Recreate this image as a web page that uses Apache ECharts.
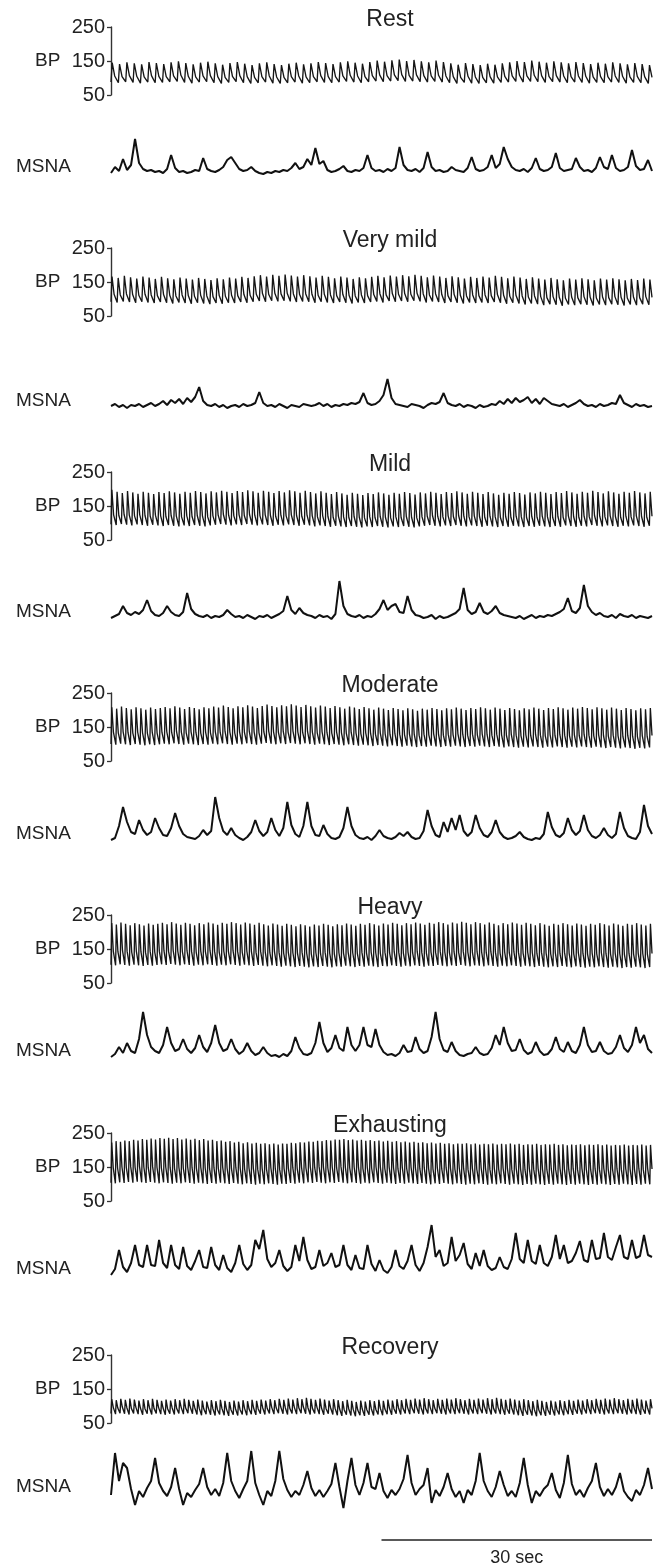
<!DOCTYPE html>
<html><head><meta charset="utf-8">
<script src="https://cdn.jsdelivr.net/npm/echarts/dist/echarts.min.js"></script>
<style>html,body{margin:0;padding:0;background:#fff}#c{width:661px;height:1565px}</style>
</head><body><div id="c"></div>
<script>
// ---------- data ----------
const titles = ['Rest','Very mild','Mild','Moderate','Heavy','Exhausting','Recovery'];
const bpTicks = [50,150,250];
const recordSec = 60;
const scaleBarSec = [30,60];
const scaleBarLabel = '30 sec';

// BP per beat (mmHg): systolic peak, dicrotic notch, diastolic trough
const restSys=[145,141,146,143,140,147,144,141,146,149,144,140,145,148,143,139,144,147,142,138,143,146,141,138,142,145,140,143,147,144,141,146,149,145,142,147,151,148,152,154,150,153,149,146,151,147,143,139,144,141,138,142,139,143,146,150,147,151,148,145,149,146,143,147,144,141,145,142,146,143,140,144,141,138];
const restNotch=[106,104,107,105,103,107,105,104,106,108,105,103,106,107,104,102,105,107,104,102,104,106,103,102,104,106,103,104,107,105,104,106,108,106,104,107,109,107,109,110,108,109,107,106,108,106,104,102,105,103,102,104,103,105,106,108,106,108,107,105,107,106,104,106,105,103,105,104,106,105,103,105,104,102];
const restDia=[88,86,89,87,85,88,86,87,89,90,87,85,88,89,86,84,87,89,86,84,86,88,85,84,86,88,85,86,89,87,86,88,90,88,86,89,91,89,91,92,90,91,89,88,90,88,86,84,87,85,84,86,85,87,88,90,88,90,89,87,89,88,86,88,87,85,87,86,88,87,85,87,86,84];

const vmildSys=[166,162,168,164,160,166,163,159,165,161,158,163,160,157,162,159,156,161,158,163,160,165,162,167,170,166,171,168,172,169,166,170,167,163,168,165,161,166,163,159,164,161,165,168,164,169,166,170,167,171,168,164,169,166,162,167,164,160,165,162,166,163,168,165,161,166,163,159,164,160,157,162,158,155,160,157,161,158,155,160,157,161,158,155,159,156,160,157];
const vmildNotch=[114,112,115,113,111,114,112,110,113,111,109,112,110,108,111,109,107,110,108,111,110,113,111,114,116,114,117,115,117,115,113,115,114,111,114,112,110,113,111,109,112,110,113,115,112,116,114,116,114,117,115,112,115,113,110,113,111,109,112,110,112,110,113,111,108,111,109,106,109,107,104,107,105,102,106,104,107,105,103,106,104,107,105,103,106,104,107,105];
const vmildDia=[92,90,93,91,89,92,90,88,91,89,87,90,88,86,89,87,85,88,86,89,88,91,89,92,94,92,95,93,95,93,91,93,92,89,92,90,88,91,89,87,90,88,91,93,90,94,92,94,92,95,93,90,93,91,88,91,89,87,90,88,90,88,91,89,86,89,87,84,87,85,82,85,83,80,84,82,85,83,81,84,82,85,83,81,84,82,85,83];

const mildSys=[198,192,188,194,190,186,192,189,185,191,188,193,190,186,192,189,194,191,187,193,190,195,192,188,194,191,196,193,189,195,192,188,194,190,196,193,189,195,191,187,193,189,185,191,187,183,189,186,182,188,185,190,187,183,189,186,191,188,184,190,187,192,189,185,191,188,193,190,186,192,189,185,191,187,183,189,186,191,188,184,190,187,192,189,185,191,188,194,190,186,192,189,195,191,187,193,190,186,192,189,194,190,187,192];
const mildNotch=[124,122,125,123,121,124,122,120,123,121,119,122,120,118,121,119,122,120,118,121,123,125,123,121,124,122,125,123,121,124,122,120,123,121,124,122,120,123,121,118,121,119,117,120,118,116,119,117,115,118,116,119,117,115,118,116,119,117,115,118,120,122,120,118,121,119,122,120,118,121,119,117,120,118,116,119,117,120,118,116,119,117,120,118,116,119,117,121,119,117,120,118,122,120,118,121,119,117,120,118,121,119,117,120];
const mildDia=[96,94,97,95,93,96,94,92,95,93,91,94,92,90,93,91,94,92,90,93,95,97,95,93,96,94,97,95,93,96,94,92,95,93,96,94,92,95,93,90,93,91,89,92,90,88,91,89,87,90,88,91,89,87,90,88,91,89,87,90,92,94,92,90,93,91,94,92,90,93,91,89,92,90,88,91,89,92,90,88,91,89,92,90,88,91,89,93,91,89,92,90,94,92,90,93,91,89,92,90,93,91,89,92];

const modSys=[208,204,210,206,202,208,205,201,207,203,206,209,205,211,207,203,209,206,202,208,205,210,207,213,209,205,211,208,214,210,206,212,216,212,208,214,211,217,213,209,215,211,207,213,210,206,212,208,204,210,207,203,209,205,201,207,204,200,206,203,199,205,202,198,204,201,206,203,199,205,202,207,204,200,206,203,208,205,201,207,204,200,206,203,199,205,202,207,204,200,206,203,208,205,201,207,204,209,206,202,208,205,201,207,204,200,206,203,199,205,202,206];
const modNotch=[135,133,136,134,132,135,133,131,134,132,134,136,134,137,135,133,136,134,132,135,133,136,134,137,135,133,136,134,137,135,133,136,138,136,134,137,135,138,136,134,137,135,133,136,134,132,135,133,131,134,132,130,133,131,129,132,130,128,131,129,127,130,128,126,129,127,130,128,126,129,127,130,128,126,129,127,130,128,126,129,127,125,128,126,124,127,125,128,126,124,127,125,128,126,124,127,125,128,126,124,127,125,123,126,124,122,125,123,121,124,122,125];
const modDia=[100,98,101,99,97,100,98,96,99,97,99,101,99,102,100,98,101,99,97,100,98,101,99,102,100,98,101,99,102,100,98,101,103,101,99,102,100,103,101,99,102,100,98,101,99,97,100,98,96,99,97,95,98,96,94,97,95,93,96,94,92,95,93,91,94,92,95,93,91,94,92,95,93,91,94,92,95,93,91,94,92,90,93,91,89,92,90,93,91,89,92,90,93,91,89,92,90,93,91,89,92,90,88,91,89,87,90,88,86,89,87,90];

const heavySys=[226,222,228,224,220,226,223,219,225,221,224,227,223,229,225,221,227,224,220,226,223,228,225,221,227,224,229,226,222,228,225,221,227,223,219,225,222,218,224,221,217,223,220,216,222,219,224,221,217,223,220,225,222,218,224,221,226,223,219,225,222,227,224,220,226,223,228,225,221,227,224,229,226,222,228,225,230,227,223,229,226,222,228,224,220,226,223,228,225,221,227,224,220,226,222,218,224,221,226,223,219,225,222,218,224,221,226,223,219,225,222,218,224,221,226,222,219,224];
const heavyNotch=[144,142,145,143,141,144,142,140,143,141,143,145,143,146,144,142,145,143,141,144,142,145,143,141,144,142,145,143,141,144,142,140,143,141,139,142,140,138,141,139,137,140,138,136,139,137,140,138,136,139,138,141,139,137,140,138,141,139,137,140,139,142,140,138,141,139,142,140,138,141,140,143,141,139,142,140,143,141,139,142,141,139,142,140,138,141,139,142,140,138,141,139,137,140,138,136,139,137,140,138,136,139,137,135,138,136,139,137,135,138,136,134,137,135,138,136,134,137];
const heavyDia=[104,102,105,103,101,104,102,100,103,101,103,105,103,106,104,102,105,103,101,104,102,105,103,101,104,102,105,103,101,104,102,100,103,101,99,102,100,98,101,99,97,100,98,96,99,97,100,98,96,99,98,101,99,97,100,98,101,99,97,100,99,102,100,98,101,99,102,100,98,101,100,103,101,99,102,100,103,101,99,102,101,99,102,100,98,101,99,102,100,98,101,99,97,100,98,96,99,97,100,98,96,99,97,95,98,96,99,97,95,98,96,94,97,95,98,96,94,97];

const exhSys=[222,226,224,228,226,230,228,232,230,234,231,235,233,236,232,235,231,234,230,233,229,232,228,230,226,228,224,226,222,224,220,223,219,221,218,220,217,219,216,219,218,221,220,223,222,225,224,227,226,229,228,231,230,232,229,231,228,230,227,229,226,228,225,227,224,226,223,225,222,224,221,223,220,222,219,221,218,220,217,219,218,220,217,219,216,218,217,219,216,218,217,219,216,218,215,217,216,218,215,217,216,218,215,217,214,216,215,217,214,216,215,217,214,216,213,215,214,216,213,215,214,216,213,215];
const exhNotch=[149,147,150,148,151,149,152,150,148,151,149,147,150,148,146,149,147,150,148,146,149,147,145,148,146,149,147,145,148,146,144,147,145,143,146,144,147,145,143,146,145,148,146,149,147,150,148,151,149,147,150,148,151,149,147,150,148,146,149,147,150,148,146,149,147,145,148,146,149,147,145,148,146,144,147,145,148,146,144,147,145,143,146,144,147,145,143,146,144,147,145,143,146,144,142,145,143,146,144,142,145,143,146,144,142,145,143,146,144,142,145,143,146,144,142,145,143,146,144,142,145,143,146,144];
const exhDia=[104,102,105,103,106,104,107,105,103,106,104,102,105,103,101,104,102,105,103,101,104,102,100,103,101,104,102,100,103,101,99,102,100,98,101,99,102,100,98,101,100,103,101,104,102,105,103,106,104,102,105,103,106,104,102,105,103,101,104,102,105,103,101,104,102,100,103,101,104,102,100,103,101,99,102,100,103,101,99,102,100,98,101,99,102,100,98,101,99,102,100,98,101,99,97,100,98,101,99,97,100,98,101,99,97,100,98,101,99,97,100,98,101,99,97,100,98,101,99,97,100,98,101,99];

const recSys=[120,117,121,118,122,119,116,120,117,121,118,115,119,116,120,117,121,118,115,119,116,113,117,114,118,115,112,116,113,117,114,118,115,119,116,120,117,121,118,122,119,123,120,124,121,118,122,119,116,120,117,114,118,115,112,116,113,117,114,118,115,119,116,120,117,121,118,122,119,123,120,117,121,118,122,119,123,120,117,121,118,122,119,123,120,124,121,118,122,119,116,120,117,114,118,115,112,116,113,117,114,118,115,119,116,120,117,121,118,122,119,123,120,117,121,118,122,119,116,120];
const recNotch=[96,94,97,95,93,96,94,92,95,93,96,94,92,95,93,96,94,97,95,93,91,94,92,90,93,91,89,92,90,93,91,94,92,95,93,96,94,97,95,93,96,94,97,95,93,96,94,92,95,93,91,89,92,90,88,91,89,92,90,93,91,94,92,95,93,96,94,97,95,93,96,94,97,95,93,96,94,97,95,93,96,94,97,95,93,96,94,92,95,93,91,89,92,90,88,91,89,92,90,93,91,94,92,95,93,96,94,97,95,93,96,94,97,95,93,96,94,92,95,93];
const recDia=[78,76,79,77,75,78,76,74,77,75,78,76,74,77,75,78,76,79,77,75,73,76,74,72,75,73,71,74,72,75,73,76,74,77,75,78,76,79,77,75,78,76,79,77,75,78,76,74,77,75,73,71,74,72,70,73,71,74,72,75,73,76,74,77,75,78,76,79,77,75,78,76,79,77,75,78,76,79,77,75,78,76,79,77,75,78,76,74,77,75,73,71,74,72,70,73,71,74,72,75,73,76,74,77,75,78,76,79,77,75,78,76,79,77,75,78,76,74,77,75];

// MSNA integrated neurogram (arbitrary units above baseline), equally spaced samples
const restMsna=[0,6,2,14,3,8,34,10,4,2,3,1,2,0,4,18,5,1,2,0,1,3,2,15,4,2,1,3,6,13,16,10,4,2,3,6,2,0,-1,1,0,2,1,3,2,5,10,4,6,14,8,25,9,12,3,1,2,4,7,2,1,3,2,5,18,5,2,3,1,4,2,5,26,8,3,2,4,1,5,21,6,2,3,1,2,6,3,2,1,5,16,4,2,3,6,18,5,9,26,14,6,3,2,4,1,5,15,4,2,3,6,20,5,2,3,4,15,6,2,3,1,5,16,6,4,18,5,2,3,6,23,7,3,4,13,2];
const vmildMsna=[1,3,0,2,-1,2,1,3,0,2,4,1,3,6,2,7,4,8,3,9,5,10,20,6,2,1,3,0,2,-1,1,2,0,3,1,2,4,15,4,1,2,0,3,1,-1,2,1,0,3,2,1,2,4,1,3,0,2,1,3,2,4,3,5,14,4,2,3,6,12,28,9,3,2,1,0,3,2,1,-1,2,4,3,5,14,4,2,1,3,0,2,1,-1,2,0,1,3,2,6,3,8,4,9,5,7,10,4,8,3,9,6,3,2,1,3,0,2,4,7,3,1,2,0,3,1,2,4,3,12,4,2,0,3,1,2,0,1];
const mildMsna=[0,2,4,12,5,3,6,4,8,18,7,3,2,5,12,6,3,2,6,25,9,4,2,1,3,0,2,1,3,8,4,1,2,0,3,1,-1,2,1,3,0,2,4,7,22,8,4,10,5,3,2,0,3,1,2,-1,4,37,12,4,2,1,3,0,2,1,4,9,18,8,12,14,6,5,22,8,3,2,0,1,3,-1,2,0,1,3,5,9,30,8,4,6,15,6,4,7,12,5,3,2,1,0,2,-1,1,3,0,2,1,3,2,4,6,9,20,7,5,10,33,12,6,3,5,2,1,3,0,4,2,1,3,0,2,1,0,2];
const modMsna=[0,2,14,33,18,8,6,20,10,5,8,22,12,5,4,12,27,14,6,3,2,1,4,10,5,9,43,22,9,5,12,5,2,0,3,8,20,9,4,8,22,10,4,12,38,15,6,3,14,38,14,5,4,15,6,2,1,3,12,33,14,5,2,1,3,0,4,10,4,2,1,3,7,4,8,3,1,2,9,30,14,5,3,18,8,22,10,25,9,4,8,25,12,5,3,8,20,8,3,1,2,4,8,3,1,0,2,1,6,28,13,5,3,7,22,10,5,9,25,10,4,2,5,12,5,2,6,28,12,4,2,1,8,35,14,6];
const heavyMsna=[0,3,10,4,14,6,4,18,45,22,10,6,4,12,30,14,6,8,18,8,4,9,22,10,5,14,32,14,6,8,18,8,3,6,14,6,2,4,10,4,1,2,0,3,1,6,20,9,3,2,4,14,35,14,5,9,22,9,6,30,12,6,12,30,12,10,28,12,5,2,3,1,4,12,5,6,20,8,4,6,20,45,18,7,5,15,6,2,1,3,4,10,4,2,3,9,22,12,30,14,6,7,18,7,3,5,15,6,2,3,8,20,8,5,15,6,4,12,30,12,5,6,15,6,3,4,10,22,9,5,12,30,14,22,8,4];
const exhMsna=[0,6,25,8,3,12,30,10,8,30,10,9,35,12,7,30,10,6,28,9,5,14,25,8,7,28,10,5,20,7,3,12,30,11,5,10,35,26,45,16,8,12,25,9,4,8,30,14,38,15,6,8,25,9,12,22,8,10,30,10,5,20,7,6,30,11,4,15,5,2,8,25,9,6,14,30,10,4,12,28,50,18,25,9,12,38,14,20,32,11,6,22,9,25,9,5,7,18,8,6,16,42,16,12,35,14,11,30,12,9,18,40,16,30,12,14,22,34,15,13,35,16,17,42,18,15,28,40,18,16,35,17,19,40,20,18];
const recMsna=[-2,40,12,30,25,4,-12,2,-4,5,12,35,10,2,-3,6,25,4,-12,0,-4,3,9,25,6,-2,4,-3,10,40,12,2,-5,4,12,42,10,-2,-12,2,-3,12,42,14,3,-4,2,-2,8,22,5,-3,3,-4,2,9,30,6,-15,12,35,8,-2,10,30,6,4,20,2,-5,3,-2,4,14,38,10,-2,4,8,25,-10,3,-3,6,20,4,-4,2,-10,3,-2,12,40,12,2,-4,6,22,8,-3,2,-4,10,35,8,-10,2,-3,4,8,20,3,-5,10,38,9,-2,3,-4,5,12,30,6,-3,4,-2,6,20,2,-4,-8,3,-2,8,25,4];

const bpSysAll=[restSys,vmildSys,mildSys,modSys,heavySys,exhSys,recSys];
const bpNotchAll=[restNotch,vmildNotch,mildNotch,modNotch,heavyNotch,exhNotch,recNotch];
const bpDiaAll=[restDia,vmildDia,mildDia,modDia,heavyDia,exhDia,recDia];
const msnaAll=[restMsna,vmildMsna,mildMsna,modMsna,heavyMsna,exhMsna,recMsna];

// ---------- layout / style ----------
const L = {left:111, width:541, bpH:68, msnaH:90,
  bpTop:[27,248,472,693,915,1133,1355],
  msnaBase:[173,407,618,840,1057,1275,1493],
  titleX:390, barY:1540,
  font:'"Liberation Sans", Arial, sans-serif', ink:'#161616'};
// where, within one beat, the systolic peak and the dicrotic notch sit (fraction of the beat)
const pulsePhase = {sys:0.16, notch:0.5};

const chart = echarts.init(document.getElementById('c'), null, {renderer:'canvas'});
const grid=[], xAxis=[], yAxis=[], series=[], graphic=[];
titles.forEach((t,p)=>{
  let gi = grid.length;
  grid.push({left:L.left, top:L.bpTop[p], width:L.width, height:L.bpH});
  const sys=bpSysAll[p], notch=bpNotchAll[p], dia=bpDiaAll[p];
  const bp=[];
  for(let b=0;b<sys.length;b++){
    bp.push([b,dia[b]]); bp.push([b+pulsePhase.sys,sys[b]]); bp.push([b+pulsePhase.notch,notch[b]]);
  }
  xAxis.push({type:'value', gridIndex:gi, min:0, max:sys.length-1+pulsePhase.notch, show:false});
  yAxis.push({type:'value', gridIndex:gi, min:bpTicks[0], max:bpTicks[2], interval:bpTicks[1]-bpTicks[0],
    axisLine:{show:true, lineStyle:{color:'#333', width:1.4}},
    axisTick:{show:true, length:4, lineStyle:{color:'#333', width:1.3}},
    axisLabel:{fontSize:20, color:'#222', fontFamily:L.font, margin:6},
    splitLine:{show:false}});
  series.push({type:'line', xAxisIndex:gi, yAxisIndex:gi, data:bp, showSymbol:false, silent:true,
    lineStyle:{color:L.ink, width:1.35}, animation:false});
  gi = grid.length;
  grid.push({left:L.left, top:L.msnaBase[p]-70, width:L.width, height:L.msnaH});
  const m = msnaAll[p].map((v,i)=>[i,v]);
  xAxis.push({type:'value', gridIndex:gi, min:0, max:m.length-1, show:false});
  yAxis.push({type:'value', gridIndex:gi, min:-20, max:70, show:false});
  series.push({type:'line', xAxisIndex:gi, yAxisIndex:gi, data:m, showSymbol:false, silent:true,
    lineStyle:{color:'#111', width:2}, animation:false});
  graphic.push({type:'text', x:L.titleX, y:L.bpTop[p]-7, style:{text:t, font:'23px '+L.font, fill:'#222', textAlign:'center', textVerticalAlign:'middle'}});
  graphic.push({type:'text', x:35, y:L.bpTop[p]+L.bpH/2, style:{text:'BP', font:'19px '+L.font, fill:'#222', textAlign:'left', textVerticalAlign:'middle'}});
  graphic.push({type:'text', x:16, y:L.msnaBase[p]-6, style:{text:'MSNA', font:'19px '+L.font, fill:'#222', textAlign:'left', textVerticalAlign:'middle'}});
});
// scale bar
const gs = grid.length;
grid.push({left:L.left, top:L.barY-10, width:L.width, height:20});
xAxis.push({type:'value', gridIndex:gs, min:0, max:recordSec, show:false});
yAxis.push({type:'value', gridIndex:gs, min:-1, max:1, show:false});
series.push({type:'line', xAxisIndex:gs, yAxisIndex:gs, data:scaleBarSec.map(s=>[s,0]), showSymbol:false, silent:true,
  lineStyle:{color:'#222', width:1.6}, animation:false});

chart.setOption({animation:false, grid, xAxis, yAxis, series, graphic});
const mid = chart.convertToPixel({gridIndex:gs}, [(scaleBarSec[0]+scaleBarSec[1])/2, 0]);
graphic.push({type:'text', x:mid[0], y:mid[1]+18, style:{text:scaleBarLabel, font:'18px '+L.font, fill:'#222', textAlign:'center', textVerticalAlign:'middle'}});
chart.setOption({graphic});
</script></body></html>
